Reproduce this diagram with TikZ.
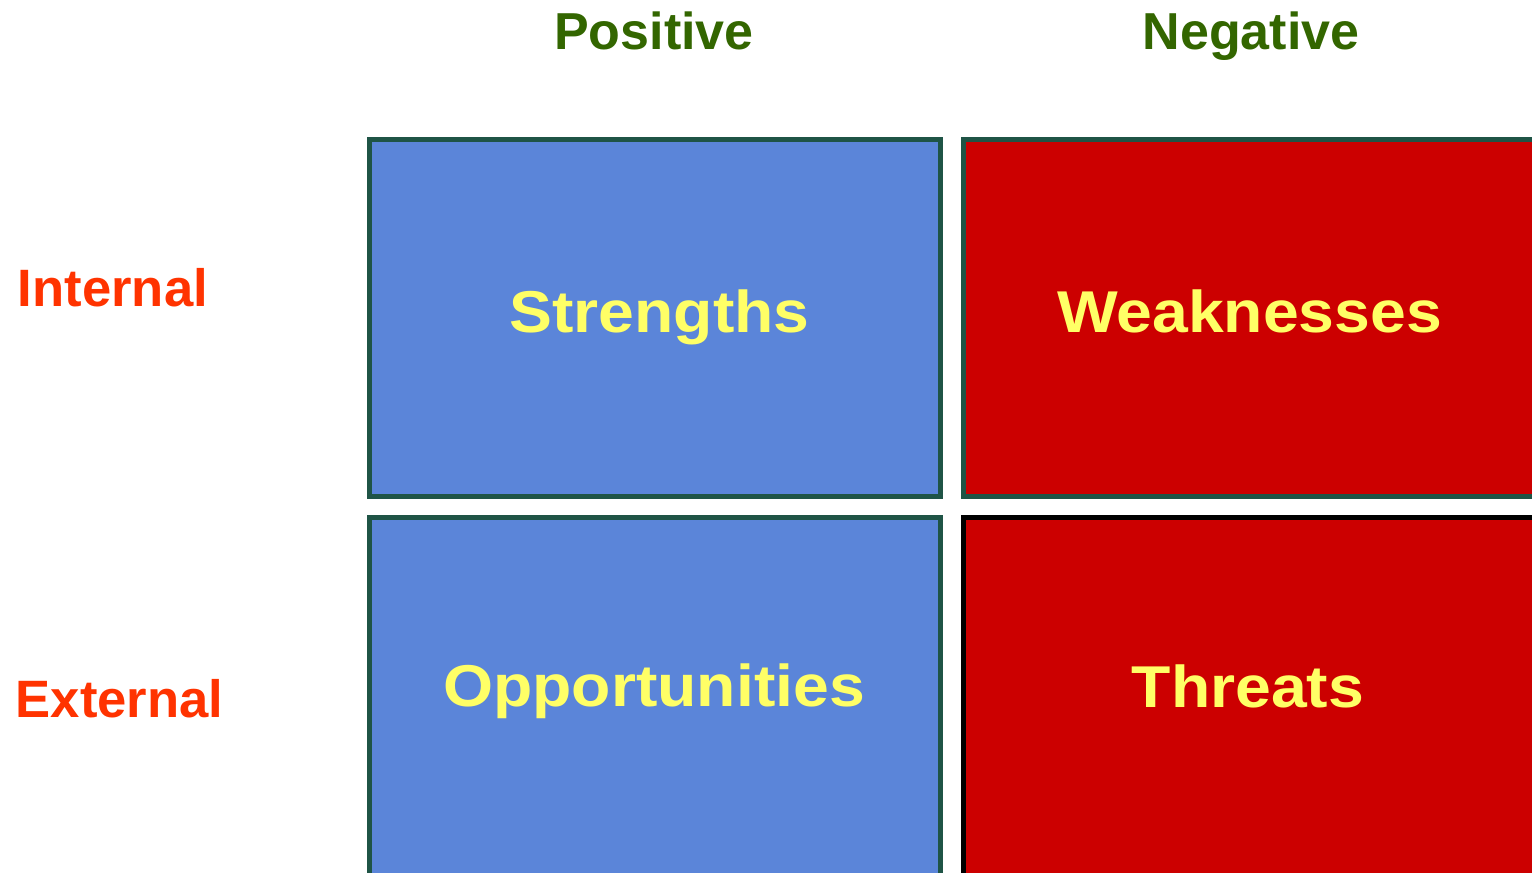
\documentclass[tikz,border=0pt]{standalone}
\usepackage{fontspec}
\setmainfont{Liberation Sans}
\definecolor{titlegreen}{HTML}{336600}
\definecolor{labelred}{HTML}{FF3300}
\definecolor{txtyellow}{HTML}{FFFF66}
\definecolor{boxblue}{HTML}{5B85D9}
\definecolor{boxred}{HTML}{CC0000}
\definecolor{edgegreen}{HTML}{1F5446}
\begin{document}
\begin{tikzpicture}[x=0.5pt,y=-0.5pt,
  quad/.style={draw=edgegreen, line width=2.5pt, inner sep=0pt, outer sep=0pt, rectangle},
  head/.style={text=titlegreen, font=\fontsize{26pt}{31pt}\selectfont\bfseries, inner sep=0pt, anchor=base},
  side/.style={text=labelred, font=\fontsize{26.3pt}{31pt}\selectfont\bfseries, inner sep=0pt, anchor=base west},
  quadtext/.style={text=txtyellow, font=\fontsize{29.5pt}{34pt}\selectfont\bfseries, inner sep=0pt, anchor=base, xscale=1.09}]
\useasboundingbox (0,0) rectangle (1532,873);
\clip (0,0) rectangle (1532,873);
\node[quad, fill=boxblue, minimum width=285.5pt, minimum height=178.75pt] (S) at (654.5,317.75) {};
\node[quad, fill=boxred, minimum width=290.75pt, minimum height=178.75pt] (W) at (1254.25,317.75) {};
\node[quad, fill=boxblue, minimum width=285.5pt, minimum height=183.75pt] (O) at (654.5,701.25) {};
\node[quad, draw=black, fill=boxred, minimum width=290.75pt, minimum height=183.75pt] (T) at (1254.25,701.25) {};
\node[head] (pos) at (654,49.3) {Positive};
\node[head] (neg) at (1251,49.3) {Negative};
\node[side] (int) at (17.5,306) {Internal};
\node[side] (ext) at (15.5,717.3) {External};
\node[quadtext] (st) at (659.5,332) {Strengths};
\node[quadtext] (wt) at (1249.5,332) {Weaknesses};
\node[quadtext] (ot) at (654,706.7) {Opportunities};
\node[quadtext] (tt) at (1248,707) {Threats};
\end{tikzpicture}
\end{document}
